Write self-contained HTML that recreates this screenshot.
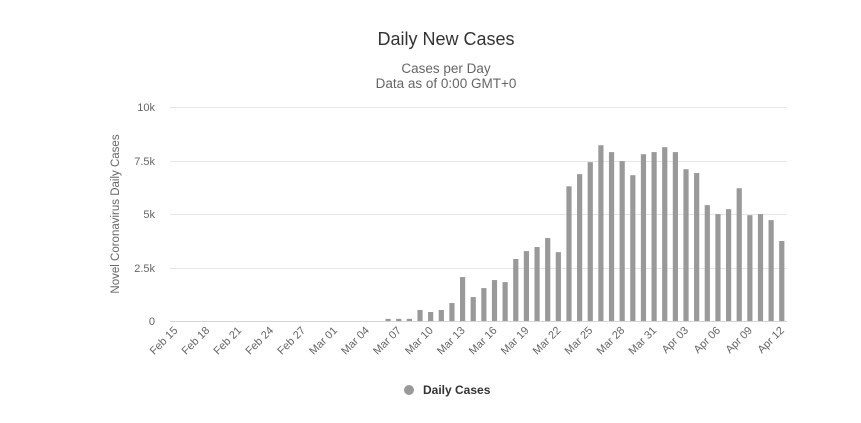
<!DOCTYPE html>
<html><head><meta charset="utf-8"><style>
html,body{margin:0;padding:0;background:#fff;}
svg{display:block;font-family:"Liberation Sans",sans-serif;}
</style></head><body>
<svg width="861" height="423" viewBox="0 0 861 423" xmlns="http://www.w3.org/2000/svg">
<text x="446" y="45" text-anchor="middle" font-size="18" fill="#333">Daily New Cases</text>
<text x="446" y="73" text-anchor="middle" font-size="13.5" fill="#666">Cases per Day</text>
<text x="446" y="88" text-anchor="middle" font-size="13.5" fill="#666">Data as of 0:00 GMT+0</text>
<g stroke="#e6e6e6" stroke-width="1">
<line x1="170" y1="107.5" x2="787" y2="107.5"/>
<line x1="170" y1="161.5" x2="787" y2="161.5"/>
<line x1="170" y1="214.5" x2="787" y2="214.5"/>
<line x1="170" y1="268.5" x2="787" y2="268.5"/>
</g>
<line x1="170" y1="321.5" x2="787" y2="321.5" stroke="#ccd6eb"/>
<g font-size="11" fill="#666" text-anchor="end">
<text x="155" y="111">10k</text>
<text x="155" y="165">7.5k</text>
<text x="155" y="218">5k</text>
<text x="155" y="272">2.5k</text>
<text x="155" y="325">0</text>
</g>
<text transform="translate(119,214) rotate(-90)" text-anchor="middle" font-size="11.5" fill="#666">Novel Coronavirus Daily Cases</text>
<g id="bars" fill="#999"></g>
<g id="labels" font-size="11" fill="#666" text-anchor="end"></g>
<circle cx="409" cy="390" r="5" fill="#999"/>
<text x="423" y="394" font-size="12" font-weight="bold" fill="#333">Daily Cases</text>
<script>
var d={20:100,21:100,22:100,23:514,24:420,25:514,26:840,27:2055,28:1120,29:1540,30:1915,31:1820,32:2900,33:3270,34:3460,35:3880,36:3220,37:6300,38:6870,39:7430,40:8220,41:7900,42:7480,43:6820,44:7800,45:7900,46:8130,47:7900,48:7100,49:6920,50:5420,51:5000,52:5230,53:6210,54:4950,55:5000,56:4720,57:3740};
var ns="http://www.w3.org/2000/svg",b=document.getElementById('bars'),l=document.getElementById('labels');
for(var i=0;i<58;i++){var cx=175.3+i*10.64;
if(d[i]){var h=d[i]*0.02138;var r=document.createElementNS(ns,'rect');r.setAttribute('x',cx-2.6);r.setAttribute('y',321-h);r.setAttribute('width',5.2);r.setAttribute('height',h);b.appendChild(r);}
if(i%3==0){var dt=new Date(2020,1,15+i);var m=['Jan','Feb','Mar','Apr'][dt.getMonth()];var dd=('0'+dt.getDate()).slice(-2);
var t=document.createElementNS(ns,'text');t.setAttribute('transform','translate('+(cx+3)+',331) rotate(-45)');t.textContent=m+' '+dd;l.appendChild(t);}}
</script>
</svg>
</body></html>
